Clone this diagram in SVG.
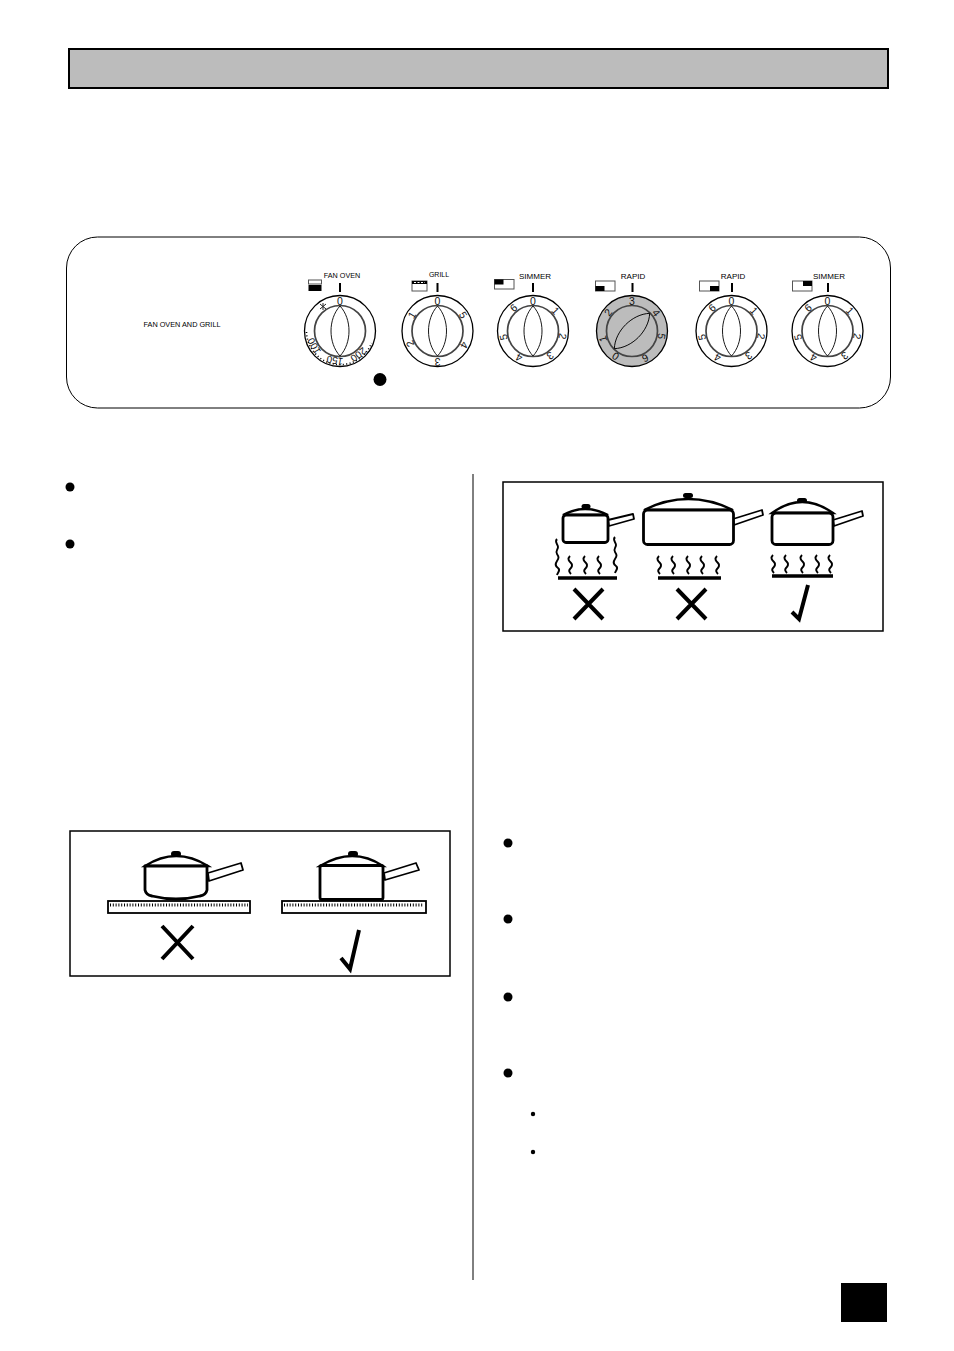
<svg xmlns="http://www.w3.org/2000/svg" xmlns:xlink="http://www.w3.org/1999/xlink" width="954" height="1351" viewBox="0 0 954 1351">
<style>
text{font-family:"Liberation Sans",Arial,sans-serif;fill:#000}
.lbl{font-size:7.6px;text-anchor:middle}
.num{font-size:10.5px;text-anchor:middle;fill:#111}
.o{fill:none}
.pan{fill:#fff;stroke:#000;stroke-width:2.800;stroke-linejoin:round}
.lid{fill:#fff;stroke:#000;stroke-width:2.400}
.hd{fill:#fff;stroke:#000;stroke-width:1.800;stroke-linejoin:round}
.mark{fill:none;stroke:#000;stroke-width:4}
.heat{fill:none;stroke:#000;stroke-width:1.900}
.ico{fill:#fff;stroke:#555;stroke-width:1}
</style>
<defs>
<g id="dial">
<circle class="o" r="35.500" stroke="#000" stroke-width="1.300"/>
<circle class="o" r="25.500" stroke="#444" stroke-width="1.700"/>
<path class="o" d="M0-25C-12-12-12 12 0 25C12 12 12-12 0-25z" stroke="#000" stroke-width=".9"/>
</g>
<g id="ring-7">
<text class="num" transform="rotate(0)translate(0-26.500)">0</text>
<text class="num" transform="rotate(48)translate(0-26.500)">1</text>
<text class="num" transform="rotate(100)translate(0-26.500)">2</text>
<text class="num" transform="rotate(145)translate(0-26.500)">3</text>
<text class="num" transform="rotate(208)translate(0-26.500)">4</text>
<text class="num" transform="rotate(258)translate(0-26.500)">5</text>
<text class="num" transform="rotate(-40)translate(0-26.500)">6</text>
</g>
<path id="sq" d="M1 0c-3 3-1 5 1 7s1 4-1 6 0 4 1 5" class="heat"/>
<path id="sqt" d="M2 0c-3 3 1 5 1 8s-3 4-1 7 2 4 0 7-2 5 1 7 0 4-1 7" class="heat"/>
</defs>

<rect id="header" x="69" y="49" width="819" height="39" fill="#bcbcbc" stroke="#000" stroke-width="2"/>

<g id="panel">
<rect x="66.500" y="237" width="824" height="171" rx="31" fill="#fff" stroke="#000" stroke-width="1"/>
<text class="lbl" x="182" y="327" style="font-size:7.300px">FAN OVEN AND GRILL</text>
<circle cx="380" cy="379.500" r="6.500"/>
</g>

<g id="dial-fan-oven">
<use xlink:href="#dial" x="340" y="331"/>
<rect class="ico" x="308.500" y="280" width="13" height="4"/>
<rect x="308.500" y="285" width="13" height="6" fill="#000"/>
<rect x="339" y="283" width="2" height="9"/>
<text class="lbl" x="342" y="278" style="font-size:7.200px">FAN OVEN</text>
<text class="num" x="340" y="304.500">0</text>
<path d="M320 304l6 5M326 304l-6 5M323 303v7" stroke="#222" stroke-width="1" fill="none"/>
<path class="o" d="M306.500 332A33.600 33.600 0 0 0 371.500 343" stroke="#000" stroke-width="1.600" stroke-dasharray="1 2.400"/>
<g transform="translate(340 331)">
<text class="num" style="font-size:10px" transform="rotate(240)translate(0-26.500)">100</text>
<text class="num" style="font-size:10px" transform="rotate(190)translate(0-26.500)">150</text>
<text class="num" style="font-size:10px" transform="rotate(142)translate(0-26.500)">200</text>
</g>
</g>

<g id="dial-grill">
<use xlink:href="#dial" x="437.500" y="331"/>
<rect class="ico" x="412" y="281" width="15" height="10"/>
<path d="M412 281h15v3h-15z"/>
<path d="M414 282.500h11" stroke="#fff" stroke-dasharray="2 1.500"/>
<rect x="436.500" y="283" width="2" height="9"/>
<text class="lbl" x="439" y="277" style="font-size:7px">GRILL</text>
<g transform="translate(437.500 331)">
<text class="num" transform="translate(0-26.500)">0</text>
<text class="num" transform="rotate(-58)translate(0-26.500)">1</text>
<text class="num" transform="rotate(-115)translate(0-26.500)">2</text>
<text class="num" transform="rotate(180)translate(0-26.500)">3</text>
<text class="num" transform="rotate(118)translate(0-26.500)">4</text>
<text class="num" transform="rotate(58)translate(0-26.500)">5</text>
</g>
</g>

<g id="dial-simmer-1">
<use xlink:href="#dial" x="533" y="331"/>
<use xlink:href="#ring-7" x="533" y="331"/>
<rect class="ico" x="494.500" y="279.500" width="19.500" height="9.500"/>
<rect x="494.500" y="279.500" width="9" height="5"/>
<rect x="532" y="283" width="2" height="9"/>
<text class="lbl" x="535" y="279" style="font-size:8px">SIMMER</text>
</g>

<g id="dial-rapid-1">
<circle cx="632" cy="331" r="35.500" fill="#bcbcbc"/>
<use xlink:href="#dial" transform="translate(632 331)rotate(45)"/>
<rect class="ico" x="595.500" y="281" width="19.500" height="10"/>
<rect x="595.500" y="286" width="9" height="5"/>
<rect x="631.500" y="283" width="2" height="9"/>
<text class="lbl" x="633" y="279" style="font-size:8px">RAPID</text>
<g transform="translate(632 331)">
<text class="num" transform="translate(0-26.500)">3</text>
<text class="num" transform="rotate(53)translate(0-26.500)">4</text>
<text class="num" transform="rotate(100)translate(0-26.500)">5</text>
<text class="num" transform="rotate(154)translate(0-26.500)">6</text>
<text class="num" transform="rotate(213)translate(0-26.500)">0</text>
<text class="num" transform="rotate(255)translate(0-26.500)">1</text>
<text class="num" transform="rotate(-52)translate(0-26.500)">2</text>
</g>
</g>

<g id="dial-rapid-2">
<use xlink:href="#dial" x="731.500" y="331"/>
<use xlink:href="#ring-7" x="731.500" y="331"/>
<rect class="ico" x="699.500" y="281" width="19.500" height="10"/>
<rect x="710" y="286" width="9" height="5"/>
<rect x="731" y="283" width="2" height="9"/>
<text class="lbl" x="733" y="279" style="font-size:8px">RAPID</text>
</g>

<g id="dial-simmer-2">
<use xlink:href="#dial" x="827.500" y="331"/>
<use xlink:href="#ring-7" x="827.500" y="331"/>
<rect class="ico" x="792.500" y="281" width="19.500" height="10"/>
<rect x="803" y="281" width="9" height="5"/>
<rect x="827" y="283" width="2" height="9"/>
<text class="lbl" x="829" y="279" style="font-size:8px">SIMMER</text>
</g>

<g id="bullets">
<circle cx="70" cy="487" r="4.500"/><circle cx="70" cy="544" r="4.500"/>
<circle cx="508" cy="843" r="4.500"/><circle cx="508" cy="919" r="4.500"/>
<circle cx="508" cy="997" r="4.500"/><circle cx="508" cy="1073" r="4.500"/>
<circle cx="533" cy="1114" r="2.200"/><circle cx="533" cy="1152" r="2.200"/>
</g>

<path id="divider" d="M473 474V1280" stroke="#000" stroke-width="1"/>

<g id="figure-pan-size">
<rect x="503" y="482" width="380" height="149" fill="#fff" stroke="#000" stroke-width="1.500"/>
<path class="hd" d="M608 520L633 514L634 519L609 526z"/>
<path class="lid" d="M563 515Q585 503 608 515z"/>
<rect class="pan" x="563" y="515" width="45" height="27.500" rx="3"/>
<rect x="581.500" y="504" width="9" height="5" rx="2.500"/>
<path class="hd" d="M733 519L762 510L763 515L734 525z"/>
<path class="lid" d="M644 510Q688 488 733 510z"/>
<rect class="pan" x="643.500" y="510" width="90" height="34.500" rx="4"/>
<rect x="683" y="493" width="10" height="5" rx="2.500"/>
<path class="hd" d="M833 520L862 511L863 516L834 526z"/>
<path class="lid" d="M772 513Q802 491 833 513z"/>
<rect class="pan" x="772" y="513" width="61" height="31.500" rx="4"/>
<rect x="797" y="498" width="10" height="5" rx="2.500"/>
<use xlink:href="#sqt" x="555" y="539"/><use xlink:href="#sqt" x="613" y="537"/>
<use xlink:href="#sq" x="569" y="556"/><use xlink:href="#sq" x="584" y="556"/><use xlink:href="#sq" x="598" y="556"/>
<use xlink:href="#sq" x="658" y="556"/><use xlink:href="#sq" x="672" y="556"/><use xlink:href="#sq" x="687" y="556"/><use xlink:href="#sq" x="701" y="556"/><use xlink:href="#sq" x="716" y="556"/>
<use xlink:href="#sq" x="772" y="555"/><use xlink:href="#sq" x="785" y="555"/><use xlink:href="#sq" x="801" y="555"/><use xlink:href="#sq" x="816" y="555"/><use xlink:href="#sq" x="829" y="555"/>
<path d="M558 578H617M658 578H721M772 576H833" stroke="#000" stroke-width="3.500"/>
<path class="mark" d="M574 589L603 619M603 589L574 619M677 589L706 619M706 589L677 619"/>
<path class="mark" d="M792 612L799 619L808 585"/>
</g>

<g id="figure-pan-base">
<rect x="70" y="831" width="380" height="145" fill="#fff" stroke="#000" stroke-width="1.500"/>
<path class="hd" d="M208 873L241 863L243 870L209 881z"/>
<path class="lid" d="M145 866Q176 846 208 866z"/>
<path class="pan" d="M145 866H207V890Q206 895 200 896Q176 902 152 896Q146 895 145 890z"/>
<rect x="171" y="851" width="10" height="6" rx="3"/>
<rect x="108" y="901" width="142" height="12" fill="#fff" stroke="#000" stroke-width="1.800"/>
<path d="M110 905H248" stroke="#000" stroke-width="3" stroke-dasharray="1 1.800"/>
<path class="hd" d="M384 873L416 863L419 870L385 880z"/>
<path class="lid" d="M320 866Q353 846 383 866z"/>
<rect class="pan" x="320" y="865.500" width="63" height="34" rx="2"/>
<rect x="348" y="851" width="10" height="6" rx="3"/>
<rect x="282" y="901" width="144" height="12" fill="#fff" stroke="#000" stroke-width="1.800"/>
<path d="M284 905H424" stroke="#000" stroke-width="3" stroke-dasharray="1 1.800"/>
<path class="mark" d="M162 926L193 959M193 926L162 959"/>
<path class="mark" d="M341 958L350 969L359 930"/>
</g>

<rect id="page-tab" x="841" y="1283" width="46" height="39"/>
</svg>
